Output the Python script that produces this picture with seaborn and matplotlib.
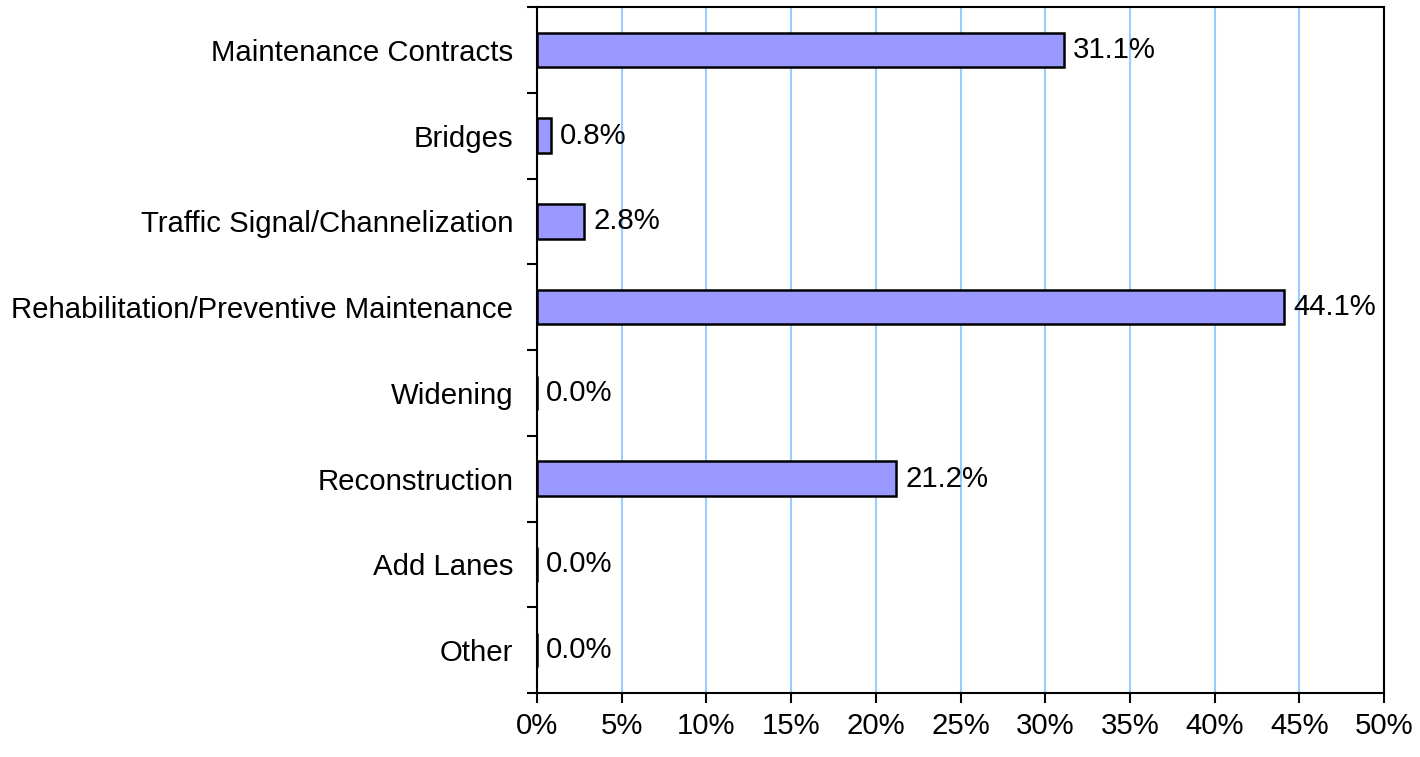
import numpy as np
import pandas as pd
import seaborn as sns
import matplotlib.pyplot as plt
from matplotlib.ticker import FixedLocator, PercentFormatter

categories = ['Maintenance Contracts', 'Bridges', 'Traffic Signal/Channelization',
              'Rehabilitation/Preventive Maintenance', 'Widening', 'Reconstruction',
              'Add Lanes', 'Other']
shares = [31.1, 0.8, 2.8, 44.1, 0.0, 21.2, 0.0, 0.0]

df = pd.DataFrame({'category': categories, 'share': shares})

sns.set_style('white')
plt.rcParams['font.family'] = ['Liberation Sans', 'DejaVu Sans']
plt.rcParams['text.color'] = 'black'
plt.rcParams['xtick.color'] = 'black'
plt.rcParams['ytick.color'] = 'black'
plt.rcParams['xtick.labelcolor'] = 'black'
plt.rcParams['ytick.labelcolor'] = 'black'

fs = 21.2

fig = plt.figure(figsize=(14.2, 7.57), dpi=100)
ax = fig.add_axes([537 / 1420, 1 - 693 / 757, (1384 - 537) / 1420, (693 - 7) / 757])

ax.grid(axis='x', color='#99CCFF', linewidth=1.5, zorder=0)
ax.set_axisbelow(True)

sns.barplot(data=df, x='share', y='category', orient='h', color='#9999FF',
            saturation=1, edgecolor='black', linewidth=1.8, width=0.4, ax=ax)

ax.bar_label(ax.containers[0], fmt='%.1f%%', padding=6.5, fontsize=fs, color='black')

ax.set_xlim(0, 50)
ax.set_xticks(np.arange(0, 51, 5))
ax.xaxis.set_major_formatter(PercentFormatter(decimals=0))
ax.set_ylim(7.5, -0.5)
ax.yaxis.set_minor_locator(FixedLocator(np.arange(-0.5, 8, 1)))

ax.tick_params(axis='x', which='major', direction='out', length=7.5, width=1.5,
               labelsize=fs, pad=6, bottom=True)
ax.tick_params(axis='y', which='major', length=0, labelsize=fs, pad=17)
ax.tick_params(axis='y', which='minor', direction='out', length=7.5, width=1.5,
               left=True)

for side in ['left', 'right', 'top', 'bottom']:
    ax.spines[side].set_visible(True)
    ax.spines[side].set_color('black')
    ax.spines[side].set_linewidth(1.5)

ax.set_xlabel('')
ax.set_ylabel('')

fig.savefig('out.png', dpi=100)
